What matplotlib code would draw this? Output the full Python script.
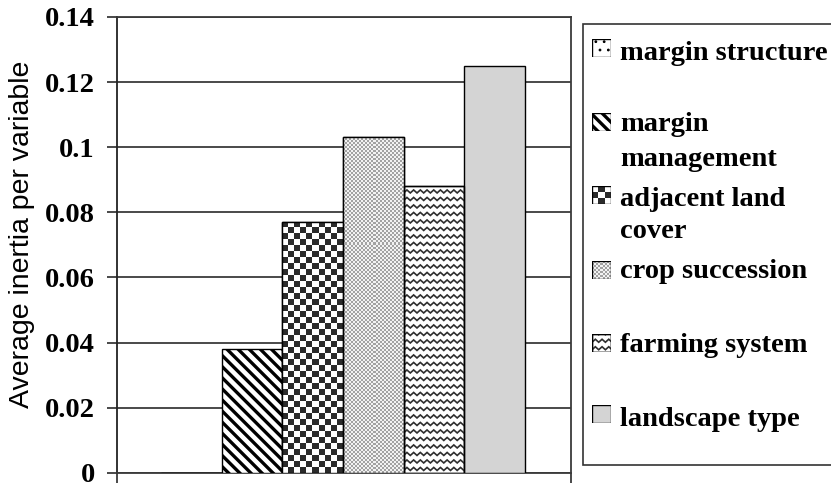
import numpy as np
import matplotlib
matplotlib.use("Agg")
import matplotlib.pyplot as plt
from matplotlib.colors import ListedColormap
from matplotlib.patches import Rectangle

# data
categories = ["margin structure", "margin management", "adjacent land cover",
              "crop succession", "farming system", "landscape type"]
legend_labels = ["margin structure", "margin\nmanagement", "adjacent land\ncover",
                 "crop succession", "farming system", "landscape type"]
values = [0.0, 0.038, 0.077, 0.103, 0.088, 0.125]
yticks = [0, 0.02, 0.04, 0.06, 0.08, 0.1, 0.12, 0.14]
ytick_labels = ["0", "0.02", "0.04", "0.06", "0.08", "0.1", "0.12", "0.14"]

W, H = 831, 488
fig = plt.figure(figsize=(W / 100, H / 100), dpi=100)
ax = fig.add_axes([117 / W, 1 - 472.7 / H, (571 - 117) / W, (472.7 - 17) / H])

serif_bold = dict(family="Liberation Serif", weight="bold", size=20.5)


def px_scale(a):
    bb = a.get_position()
    x0, x1 = a.get_xlim()
    y0, y1 = a.get_ylim()
    return (x1 - x0) / (bb.width * W), (y1 - y0) / (bb.height * H)


def checker(a, patch, cell, c1, c2):
    sx, sy = px_scale(a)
    x0, y0 = patch.get_x(), patch.get_y()
    w, h = patch.get_width(), patch.get_height()
    nx = max(1, int(round(w / (cell * sx))))
    ny = max(1, int(round(h / (cell * sy))))
    grid = np.indices((ny, nx)).sum(axis=0) % 2
    im = a.imshow(grid, extent=(x0, x0 + w, y0, y0 + ny * cell * sy), origin="lower",
                  cmap=ListedColormap([c1, c2]), aspect="auto",
                  interpolation="nearest", zorder=patch.get_zorder() + 0.1)
    im.set_clip_path(patch)


def zigzag(a, patch, spacing=7.5, wave=6.7, amp=1.5, color="#2e2e2e", lw=1.2):
    sx, sy = px_scale(a)
    x0, y0 = patch.get_x(), patch.get_y()
    w, h = patch.get_width(), patch.get_height()
    half = wave / 2 * sx
    n = int(w / half) + 2
    xs = x0 + np.arange(n) * half
    offs = np.where(np.arange(n) % 2 == 0, -amp, amp) * sy
    y = y0 + spacing * sy * 0.5
    while y < y0 + h + spacing * sy:
        ln, = a.plot(xs, y + offs, color=color, lw=lw, zorder=patch.get_zorder() + 0.1,
                     solid_joinstyle="miter")
        ln.set_clip_path(patch)
        y += spacing * sy


styles = [
    dict(facecolor="white", hatch="..", hlw=0.8),
    dict(facecolor="white", hatch="\\\\\\", hlw=2.4),
    dict(facecolor="white", hatch=None, fill="checker"),
    dict(facecolor="white", hatch=None, fill="fine"),
    dict(facecolor="white", hatch=None, fill="zigzag"),
    dict(facecolor="#d4d4d4", hatch=None),
]


def decorate(a, patch, st):
    if st.get("hatch"):
        patch.set_hatch(st["hatch"])
        if hasattr(patch, "set_hatch_linewidth"):
            patch.set_hatch_linewidth(st["hlw"])
    f = st.get("fill")
    if f == "checker":
        checker(a, patch, 6, "white", "#2b2b2b")
    elif f == "fine":
        checker(a, patch, 2, "#f2f2f2", "#a2a2a2")
    elif f == "zigzag":
        zigzag(a, patch)
    if f:
        # redraw the outline on top of the pattern
        a.add_patch(Rectangle((patch.get_x(), patch.get_y()), patch.get_width(),
                              patch.get_height(), facecolor="none", edgecolor="black",
                              linewidth=patch.get_linewidth(),
                              zorder=patch.get_zorder() + 0.2))


x = np.arange(len(values))
ax.set_xlim(-0.5 - 0.725, len(values) - 0.5 + 0.76)
ax.set_ylim(0, 0.14)

with plt.rc_context({"hatch.linewidth": 2.4}):
    bars = ax.bar(x, values, width=1.0, edgecolor="black", linewidth=1.0, zorder=3)
for b, st in zip(bars, styles):
    b.set_facecolor(st["facecolor"])
    decorate(ax, b, st)

ax.set_xlim(-0.5 - 0.725, len(values) - 0.5 + 0.76)
ax.set_ylim(0, 0.14)

ax.set_yticks(yticks)
ax.set_yticklabels(ytick_labels, fontdict=serif_bold)
ax.yaxis.grid(True, color="#3a3a3a", linewidth=1.3, zorder=0)
ax.set_axisbelow(True)
ax.tick_params(axis="y", direction="out", length=7, width=1.3, color="#3a3a3a", pad=9)
ax.set_xticks(list(ax.get_xlim()))
ax.set_xticklabels(["", ""])
ax.tick_params(axis="x", direction="out", length=7, width=1.3, color="#3a3a3a")
for s in ax.spines.values():
    s.set_color("#3a3a3a")
    s.set_linewidth(1.3)
ax.spines["left"].set_color("#222222")

fig.text(22 / W, 1 - 234 / H, "Average inertia per variable", rotation=90,
         family="Liberation Sans", size=20.5, ha="center", va="center")

# legend box
fig.patches.append(Rectangle((583 / W, 1 - 465 / H), 0.3, (465 - 24) / H,
                             transform=fig.transFigure, facecolor="white",
                             edgecolor="#333333", linewidth=1.2, zorder=-1))
handle_y = [48, 122, 195, 270, 343, 414]
line_pos = [[52], [123, 158], [197, 230], [270], [343], [417]]
for lab, hy, lp, st in zip(legend_labels, handle_y, line_pos, styles):
    hax = fig.add_axes([592 / W, 1 - (hy + 9) / H, 19 / W, 18 / H])
    hax.set_zorder(5)
    hax.patch.set_visible(False)
    hax.set_xlim(0, 1)
    hax.set_ylim(0, 1)
    hax.axis("off")
    r = Rectangle((0, 0), 1, 1, facecolor=st["facecolor"], edgecolor="black",
                  linewidth=1.0, zorder=3)
    hax.add_patch(r)
    decorate(hax, r, st)
    hax.set_xlim(0, 1)
    hax.set_ylim(0, 1)
    for line, yy in zip(lab.split("\n"), lp):
        fig.text(620 / W, 1 - (yy + 2) / H, line, ha="left", va="center", zorder=6,
                 **serif_bold)

fig.savefig("out.png", dpi=100)
